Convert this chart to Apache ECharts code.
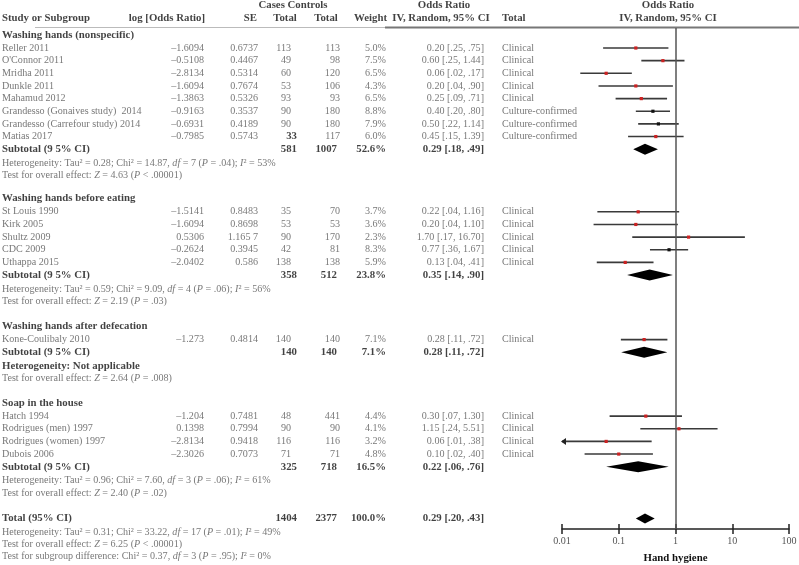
<!DOCTYPE html>
<html>
<head>
<meta charset="utf-8">
<script src="https://cdn.jsdelivr.net/npm/echarts@6.0.0/dist/echarts.min.js"></script>
<style>
  html, body { margin: 0; padding: 0; background: #fff; }
  #chart { width: 799px; height: 565px; }
</style>
</head>
<body>
<div id="chart"></div>
<script>
// ---- data ----
const groupNames = ['Washing hands (nonspecific)', 'Washing hands before eating', 'Washing hands after defecation', 'Soap in the house'];
const groupSizes = [8, 5, 1, 4];

const studies = ['Reller 2011', "O'Connor 2011", 'Mridha 2011', 'Dunkle 2011', 'Mahamud 2012',
  'Grandesso (Gonaives study)  2014', 'Grandesso (Carrefour study) 2014', 'Matias 2017',
  'St Louis 1990', 'Kirk 2005', 'Shultz 2009', 'CDC 2009', 'Uthappa 2015',
  'Kone-Coulibaly 2010',
  'Hatch 1994', 'Rodrigues (men) 1997', 'Rodrigues (women) 1997', 'Dubois 2006'];
const logOR = [-1.6094, -0.5108, -2.8134, -1.6094, -1.3863, -0.9163, -0.6931, -0.7985,
  -1.5141, -1.6094, 0.5306, -0.2624, -2.0402,
  -1.273,
  -1.204, 0.1398, -2.8134, -2.3026];
const seText = ['0.6737', '0.4467', '0.5314', '0.7674', '0.5326', '0.3537', '0.4189', '0.5743',
  '0.8483', '0.8698', '1.165 7', '0.3945', '0.586',
  '0.4814',
  '0.7481', '0.7994', '0.9418', '0.7073'];
const casesTotal = [113, 49, 60, 53, 93, 90, 90, 33, 35, 53, 90, 42, 138, 140, 48, 90, 116, 71];
const controlsTotal = [113, 98, 120, 106, 93, 180, 180, 117, 70, 53, 170, 81, 138, 140, 441, 90, 116, 71];
const weights = ['5.0%', '7.5%', '6.5%', '4.3%', '6.5%', '8.8%', '7.9%', '6.0%',
  '3.7%', '3.6%', '2.3%', '8.3%', '5.9%',
  '7.1%',
  '4.4%', '4.1%', '3.2%', '4.8%'];
const orLabels = ['0.20 [.25, .75]', '0.60 [.25, 1.44]', '0.06 [.02, .17]', '0.20 [.04, .90]', '0.25 [.09, .71]',
  '0.40 [.20, .80]', '0.50 [.22, 1.14]', '0.45 [.15, 1.39]',
  '0.22 [.04, 1.16]', '0.20 [.04, 1.10]', '1.70 [.17, 16.70]', '0.77 [.36, 1.67]', '0.13 [.04, .41]',
  '0.28 [.11, .72]',
  '0.30 [.07, 1.30]', '1.15 [.24, 5.51]', '0.06 [.01, .38]', '0.10 [.02, .40]'];
const outcomes = ['Clinical', 'Clinical', 'Clinical', 'Clinical', 'Clinical',
  'Culture-confirmed', 'Culture-confirmed', 'Culture-confirmed',
  'Clinical', 'Clinical', 'Clinical', 'Clinical', 'Clinical',
  'Clinical',
  'Clinical', 'Clinical', 'Clinical', 'Clinical'];
// plotted odds ratio and confidence limits (as drawn)
const plotOR = [0.20, 0.60, 0.06, 0.20, 0.25, 0.40, 0.50, 0.45, 0.22, 0.20, 1.70, 0.77, 0.13, 0.28, 0.30, 1.15, 0.06, 0.10];
const plotLow = [0.053, 0.25, 0.021, 0.044, 0.088, 0.20, 0.22, 0.146, 0.042, 0.036, 0.173, 0.355, 0.041, 0.109, 0.069, 0.24, 0.0095, 0.025];
const plotHigh = [0.75, 1.44, 0.17, 0.90, 0.71, 0.80, 1.14, 1.39, 1.16, 1.10, 16.7, 1.67, 0.41, 0.72, 1.30, 5.51, 0.38, 0.40];

// subtotals
const subCases = [581, 358, 140, 325];
const subControls = [1007, 512, 140, 718];
const subWeights = ['52.6%', '23.8%', '7.1%', '16.5%'];
const subLabels = ['0.29 [.18, .49]', '0.35 [.14, .90]', '0.28 [.11, .72]', '0.22 [.06, .76]'];
const subOR = [0.29, 0.35, 0.28, 0.22];
const subLow = [0.18, 0.14, 0.11, 0.06];
const subHigh = [0.49, 0.90, 0.72, 0.76];
// heterogeneity: tau2, chi2, df, P, I2
const subHet = [['0.28', '14.87', '7', '.04', '53%'], ['0.59', '9.09', '4', '.06', '56%'], null, ['0.96', '7.60', '3', '.06', '61%']];
const subZ = [['4.63', '< .00001'], ['2.19', '= .03'], ['2.64', '= .008'], ['2.40', '= .02']];

// overall
const totalCases = 1404, totalControls = 2377, totalWeight = '100.0%';
const totalLabel = '0.29 [.20, .43]';
const totalOR = 0.29, totalLow = 0.20, totalHigh = 0.43;
const totalHet = ['0.31', '33.22', '17', '.01', '49%'];
const totalZ = ['6.25', '< .00001'];
const subgroupDiff = ['0.37', '3', '.95', '0%'];

const tickLabels = ['0.01', '0.1', '1', '10', '100'];

// ---- layout ----
const ROW_H = 12.65, ROW0 = 48;             // pixel of first study row
const slotOf = px => (px - ROW0) / ROW_H;
const groupGap = [1.8, 1.95, 1.9];
const FONT = 'Liberation Serif';
const GREY = '#555';

// black markers (others are red)
const blackMarkers = [5, 6, 11];
const boldCases = [7];

const rich = {
  n: { fontFamily: FONT, fontSize: 10.1, color: GREY },
  i: { fontFamily: FONT, fontSize: 10.1, color: GREY, fontStyle: 'italic' },
  b: { fontFamily: FONT, fontSize: 10.8, color: '#111', fontWeight: 'bold' }
};
const hetText = h => `{n|Heterogeneity: Tau² = ${h[0]}; Chi² = ${h[1]}, }{i|df}{n| = ${h[2]} (}{i|P}{n| = ${h[3]}); }{i|I}{n|² = ${h[4]}}`;
const zText = z => `{n|Test for overall effect: }{i|Z}{n| = ${z[0]} (}{i|P}{n| ${z[1]})}`;
const fmtNum = v => String(v).replace('-', '\u2013');

// build row slots
const rows = [];
let s = -1.05, start = 0;
groupNames.forEach((g, gi) => {
  if (gi) s += groupGap[gi - 1];
  rows.push({ kind: 'title', gi, s });
  s += 1.05;
  for (let k = 0; k < groupSizes[gi]; k++) {
    rows.push({ kind: 'study', idx: start + k, s });
    s += 1;
  }
  start += groupSizes[gi];
  rows.push({ kind: 'sub', gi, s });
  s += 1.1;
  rows.push({ kind: 'het', gi, s });
  s += 1.0;
  rows.push({ kind: 'z', gi, s });
});
s += 2.0; rows.push({ kind: 'total', s });
s += 1.05; rows.push({ kind: 'totalHet', s });
s += 0.95; rows.push({ kind: 'totalZ', s });
s += 1.0; rows.push({ kind: 'diff', s });

// text cells
const left = [], right = [], center = [];
const cell = (arr, x, y, t) => arr.push({ value: [x, y], t });
const B = t => `{b|${t}}`, N = t => `{n|${t}}`;

const h1 = slotOf(5), h2 = slotOf(18);
cell(center, 293, h1, B('Cases Controls'));
cell(center, 444, h1, B('Odds Ratio'));
cell(center, 668, h1, B('Odds Ratio'));
cell(left, 2, h2, B('Study or Subgroup'));
cell(right, 205, h2, B('log [Odds Ratio]'));
cell(right, 257, h2, B('SE'));
cell(center, 285, h2, B('Total'));
cell(center, 326, h2, B('Total'));
cell(right, 387, h2, B('Weight'));
cell(center, 441, h2, B('IV, Random, 95% CI'));
cell(left, 502, h2, B('Total'));
cell(center, 668, h2, B('IV, Random, 95% CI'));

rows.forEach(r => {
  if (r.kind === 'title') cell(left, 2, r.s, B(groupNames[r.gi]));
  if (r.kind === 'study') {
    const i = r.idx;
    cell(left, 2, r.s, N(studies[i]));
    cell(right, 204, r.s, N(fmtNum(logOR[i])));
    cell(right, 258, r.s, N(seText[i]));
    if (boldCases.includes(i)) cell(right, 297, r.s, B(casesTotal[i]));
    else cell(right, 291, r.s, N(casesTotal[i]));
    cell(right, 340, r.s, N(controlsTotal[i]));
    cell(right, 386, r.s, N(weights[i]));
    cell(right, 484, r.s, N(orLabels[i]));
    cell(left, 502, r.s, N(outcomes[i]));
  }
  if (r.kind === 'sub') {
    cell(left, 2, r.s, B('Subtotal (9 5% CI)'));
    cell(right, 297, r.s, B(subCases[r.gi]));
    cell(right, 337, r.s, B(subControls[r.gi]));
    cell(right, 386, r.s, B(subWeights[r.gi]));
    cell(right, 484, r.s, B(subLabels[r.gi]));
  }
  if (r.kind === 'het') cell(left, 2, r.s, subHet[r.gi] ? hetText(subHet[r.gi]) : B('Heterogeneity: Not applicable'));
  if (r.kind === 'z') cell(left, 2, r.s, zText(subZ[r.gi]));
  if (r.kind === 'total') {
    cell(left, 2, r.s, B('Total (95% CI)'));
    cell(right, 297, r.s, B(totalCases));
    cell(right, 337, r.s, B(totalControls));
    cell(right, 386, r.s, B(totalWeight));
    cell(right, 484, r.s, B(totalLabel));
  }
  if (r.kind === 'totalHet') cell(left, 2, r.s, hetText(totalHet));
  if (r.kind === 'totalZ') cell(left, 2, r.s, zText(totalZ));
  if (r.kind === 'diff') {
    const d = subgroupDiff;
    cell(left, 2, r.s, `{n|Test for subgroup difference: Chi² = ${d[0]}, }{i|df}{n| = ${d[1]} (}{i|P}{n| = ${d[2]}); }{i|I}{n|² = ${d[3]}}`);
  }
});

// plot data
const ciData = rows.filter(r => r.kind === 'study').map(r => [plotLow[r.idx], plotHigh[r.idx], plotOR[r.idx], r.s, r.idx]);
const diamondData = rows.filter(r => r.kind === 'sub').map(r => [subLow[r.gi], subHigh[r.gi], subOR[r.gi], r.s, 5.5]);
diamondData.push([totalLow, totalHigh, totalOR, rows.find(r => r.kind === 'total').s, 5]);

const PLOT_TOP = 28, PLOT_BOTTOM = 529;
const X_MIN = 0.01, X_MAX = 100;

const textSeries = (data, align) => ({
  type: 'scatter', xAxisIndex: 2, yAxisIndex: 1, data,
  symbolSize: 1, itemStyle: { color: 'rgba(0,0,0,0)' }, silent: true,
  label: {
    show: true, position: 'inside', align, verticalAlign: 'middle',
    formatter: p => p.data.t, rich
  }
});

const chart = echarts.init(document.getElementById('chart'), null, { renderer: 'canvas' });
chart.setOption({
  animation: false,
  backgroundColor: '#fff',
  grid: [
    { left: 562, right: 10, top: PLOT_TOP, bottom: 565 - PLOT_BOTTOM, containLabel: false, outerBoundsMode: 'none' },
    { left: 0, right: 0, top: 0, bottom: 0, containLabel: false, outerBoundsMode: 'none' }
  ],
  xAxis: [
    {
      type: 'log', logBase: 10, min: X_MIN, max: X_MAX, gridIndex: 0, position: 'bottom',
      name: 'Hand hygiene', nameLocation: 'middle', nameGap: 24,
      nameTextStyle: { fontFamily: FONT, fontSize: 10.8, fontWeight: 'bold', color: '#111' },
      axisLine: { onZero: false, lineStyle: { color: '#222', width: 1.5 } },
      axisTick: { length: 5, lineStyle: { color: '#222', width: 1.5 } },
      axisLabel: { fontFamily: FONT, fontSize: 10.1, color: GREY, margin: 7,
        formatter: v => tickLabels[Math.round(Math.log10(v)) + 2] },
      splitLine: { show: false }, minorTick: { show: false }
    },
    {
      type: 'log', logBase: 10, min: X_MIN, max: X_MAX, gridIndex: 0, position: 'bottom',
      axisLine: { show: false, onZero: false },
      axisTick: { inside: true, length: 5, lineStyle: { color: '#222', width: 1.5 } },
      axisLabel: { show: false }, splitLine: { show: false }
    },
    { type: 'value', min: 0, max: 799, gridIndex: 1, show: false }
  ],
  yAxis: [
    { type: 'value', gridIndex: 0, inverse: true, min: slotOf(PLOT_TOP), max: slotOf(PLOT_BOTTOM), show: false },
    { type: 'value', gridIndex: 1, inverse: true, min: slotOf(0), max: slotOf(565), show: false }
  ],
  graphic: [
    { type: 'line', shape: { x1: 35, y1: 27.5, x2: 385, y2: 27.5 }, style: { stroke: '#bbb', lineWidth: 1 }, silent: true },
    { type: 'line', shape: { x1: 385, y1: 27.5, x2: 799, y2: 27.5 }, style: { stroke: '#777', lineWidth: 2 }, silent: true }
  ],
  series: [
    {
      type: 'line', xAxisIndex: 0, yAxisIndex: 0, data: [],
      markLine: {
        silent: true, symbol: 'none', label: { show: false },
        lineStyle: { color: '#555', width: 1.5, type: 'solid' },
        data: [{ xAxis: 1 }]
      }
    },
    {
      type: 'custom', xAxisIndex: 0, yAxisIndex: 0, data: ciData,
      encode: { x: [0, 1, 2], y: 3 }, silent: true,
      renderItem: (params, api) => {
        const lo = api.value(0), hi = api.value(1), pt = api.value(2), y = api.value(3), idx = api.value(4);
        const a = api.coord([Math.max(lo, X_MIN), y]);
        const b = api.coord([hi, y]);
        const c = api.coord([pt, y]);
        const children = [
          { type: 'line', shape: { x1: a[0], y1: a[1], x2: b[0], y2: b[1] },
            style: { stroke: '#3a3a3a', lineWidth: 1.6 } },
          { type: 'rect', shape: { x: c[0] - 1.6, y: c[1] - 1.6, width: 3.2, height: 3.2 },
            style: { fill: blackMarkers.includes(idx) ? '#111' : '#cc2222' } }
        ];
        if (lo < X_MIN) {
          children.push({ type: 'polygon',
            shape: { points: [[a[0] - 1, a[1]], [a[0] + 4, a[1] - 3.5], [a[0] + 4, a[1] + 3.5]] },
            style: { fill: '#222' } });
        }
        return { type: 'group', children };
      }
    },
    {
      type: 'custom', xAxisIndex: 0, yAxisIndex: 0, data: diamondData,
      encode: { x: [0, 1, 2], y: 3 }, silent: true,
      renderItem: (params, api) => {
        const lo = api.coord([api.value(0), api.value(3)]);
        const hi = api.coord([api.value(1), api.value(3)]);
        const c = api.coord([api.value(2), api.value(3)]);
        const h = api.value(4);
        return {
          type: 'polygon',
          shape: { points: [lo, [c[0], c[1] - h], hi, [c[0], c[1] + h]] },
          style: { fill: '#000' }
        };
      }
    },
    textSeries(left, 'left'),
    textSeries(right, 'right'),
    textSeries(center, 'center')
  ]
});
</script>
</body>
</html>
